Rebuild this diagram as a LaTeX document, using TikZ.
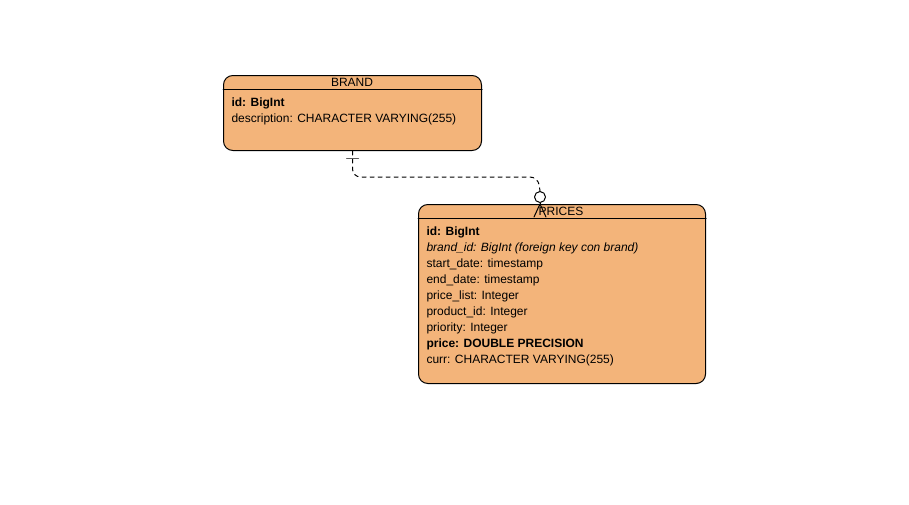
\documentclass[tikz,border=0pt]{standalone}
\usepackage{fontspec}
\setmainfont{Liberation Sans}
\usetikzlibrary{positioning}
\begin{document}
\begin{tikzpicture}[x=0.75pt, y=-0.75pt, line cap=round, line join=round, line width=0.75pt,
    entity/.style={draw, fill=erorange, rounded corners=7pt, inner sep=0pt, anchor=north west},
    attr/.style={anchor=base west, inner sep=0pt, font=\fontsize{9}{10}\selectfont},
    title/.style={anchor=base, inner sep=0pt, font=\fontsize{9}{10}\selectfont}]
  \definecolor{erorange}{RGB}{243,180,122}
  \useasboundingbox (0,0) rectangle (909,504);
  % entities
  \node[entity, minimum width=193.5pt, minimum height=56.25pt] (brand) at (223,75) {};
  \node[entity, minimum width=215.25pt, minimum height=134.25pt] (prices) at (418,204) {};
  \draw (brand.west |- 0,89) -- (brand.east |- 0,89);
  \draw (prices.west |- 0,218) -- (prices.east |- 0,218);
  \node[title] (brandname) at (352,86) {BRAND};
  \node[title] (pricesname) at (561,215) {PRICES};
  % attributes
  \node[attr] (bid) at (231,106) {\textbf{id: BigInt}};
  \node[attr] (bdesc) at (231,122) {description: CHARACTER VARYING(255)};
  \foreach \y/\txt in {235/\textbf{id: BigInt},
      251/\textit{brand\_id: BigInt (foreign key con brand)},
      267/start\_date: timestamp, 283/end\_date: timestamp,
      299/price\_list: Integer, 315/product\_id: Integer,
      331/priority: Integer, 347/\textbf{price: DOUBLE PRECISION},
      363/curr: CHARACTER VARYING(255)}
    \node[attr] at (426,\y) {\txt};
  % relation brand 1 -- 0..n prices
  \node[circle, draw, fill=white, minimum size=8.25pt, inner sep=0pt] (ring) at (540,197) {};
  \coordinate (bend) at (538,177);
  \coordinate (foot) at (540,204);
  \draw[dash pattern=on 3pt off 3pt, rounded corners=6pt] (brand.south) |- (bend) -- (ring.north);
  \draw[gray!70!black] ([shift={(-6,7)}]brand.south) -- ([shift={(6,7)}]brand.south);
  \draw (ring.south) -- (foot);
  \draw (foot) -- ([shift={(-6,13)}]foot);
  \draw (foot) -- ([shift={(6,13)}]foot);
\end{tikzpicture}
\end{document}
